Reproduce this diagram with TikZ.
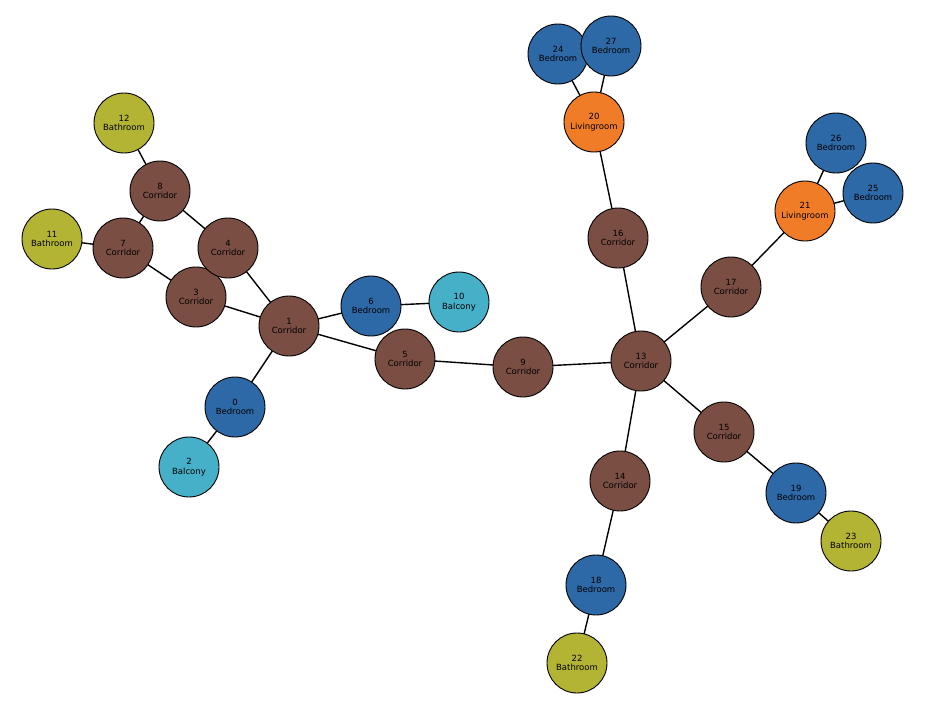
\documentclass[tikz,border=0pt]{standalone}
\usepackage{fontspec}
\setmainfont{DejaVu Sans}
\usetikzlibrary{backgrounds}
\definecolor{cor}{HTML}{7A4E43}
\definecolor{bed}{HTML}{2D69A6}
\definecolor{bal}{HTML}{45B0C8}
\definecolor{bath}{HTML}{B4B434}
\definecolor{liv}{HTML}{F07C28}
\tikzset{room/.style={circle,draw=black,line width=0.9pt,minimum size=60pt,inner sep=0pt,align=center,font=\fontsize{8.5}{9.5}\selectfont},
Cor/.style={room,fill=cor},Bed/.style={room,fill=bed},Bal/.style={room,fill=bal},Bath/.style={room,fill=bath},Liv/.style={room,fill=liv},
edge/.style={line width=1.4pt,black}}
\begin{document}
\begin{tikzpicture}[x=1pt,y=-1pt]
\useasboundingbox (0,0) rectangle (950,706);
\node[Bed] (n0) at (235,407) {0\\Bedroom};
\node[Cor] (n1) at (289,326) {1\\Corridor};
\node[Bal] (n2) at (189,467) {2\\Balcony};
\node[Cor] (n3) at (196,297) {3\\Corridor};
\node[Cor] (n4) at (228,248) {4\\Corridor};
\node[Cor] (n5) at (405,359) {5\\Corridor};
\node[Bed] (n6) at (371,306) {6\\Bedroom};
\node[Cor] (n7) at (123,248) {7\\Corridor};
\node[Cor] (n8) at (160,191) {8\\Corridor};
\node[Cor] (n9) at (523,367) {9\\Corridor};
\node[Bal] (n10) at (459,302) {10\\Balcony};
\node[Bath] (n11) at (52,239) {11\\Bathroom};
\node[Bath] (n12) at (124,123) {12\\Bathroom};
\node[Cor] (n13) at (641,361) {13\\Corridor};
\node[Cor] (n14) at (620,481) {14\\Corridor};
\node[Cor] (n15) at (724,432) {15\\Corridor};
\node[Cor] (n16) at (618,238) {16\\Corridor};
\node[Cor] (n17) at (731,287) {17\\Corridor};
\node[Bed] (n18) at (596,585) {18\\Bedroom};
\node[Bed] (n19) at (796,493) {19\\Bedroom};
\node[Liv] (n20) at (594,122) {20\\Livingroom};
\node[Liv] (n21) at (805,211) {21\\Livingroom};
\node[Bath] (n22) at (577,663) {22\\Bathroom};
\node[Bath] (n23) at (851,541) {23\\Bathroom};
\node[Bed] (n24) at (558,54) {24\\Bedroom};
\node[Bed] (n25) at (873,193) {25\\Bedroom};
\node[Bed] (n26) at (836,143) {26\\Bedroom};
\node[Bed] (n27) at (611,46) {27\\Bedroom};
\begin{scope}[on background layer]
\foreach \a/\b in {0/1,0/2,1/3,1/4,1/5,1/6,3/7,4/8,7/8,7/11,8/12,6/10,5/9,9/13,13/16,13/17,13/15,13/14,16/20,20/24,20/27,17/21,21/26,21/25,15/19,19/23,14/18,18/22}
  \draw[edge] (n\a.center) -- (n\b.center);
\end{scope}
\end{tikzpicture}
\end{document}
